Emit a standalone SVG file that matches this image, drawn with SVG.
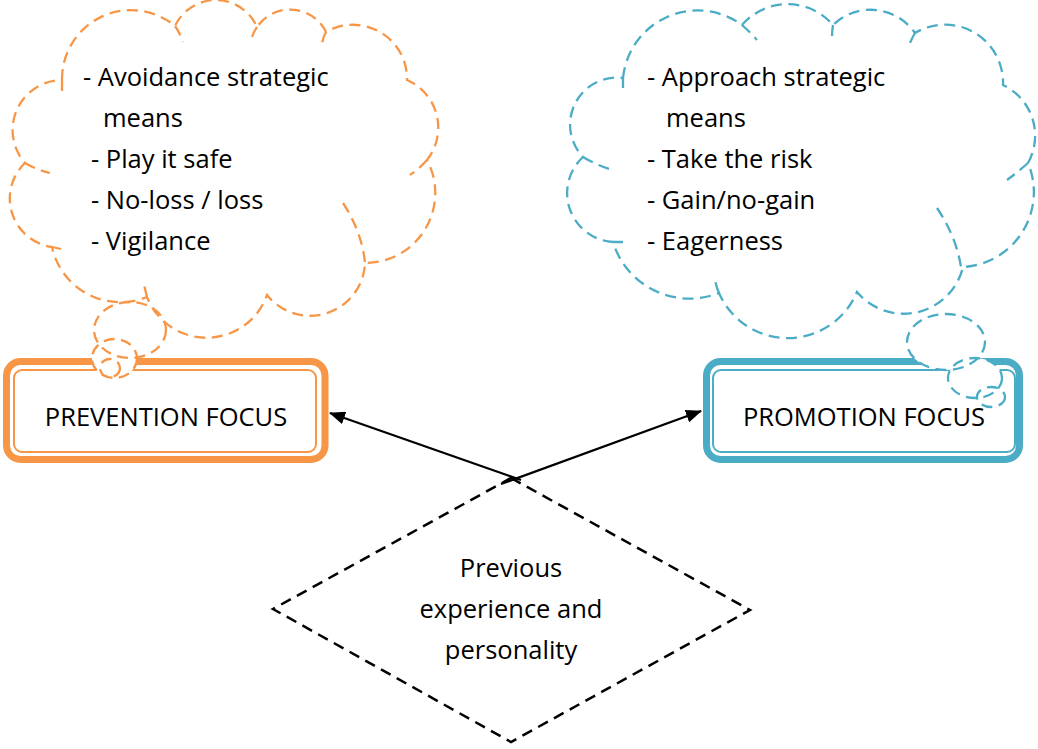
<svg xmlns="http://www.w3.org/2000/svg" width="1038" height="749" viewBox="0 0 1038 749">
  <style>
    text { font-family: "Open Sans", "Liberation Sans", sans-serif; font-size: 25.5px; fill: #000; }
    .mid { text-anchor: middle; }
    .fill { fill: #fff; stroke: none; }
    .orange { fill: none; stroke: #F79646; stroke-width: 2.3; stroke-dasharray: 11 6.5; }
    .blue { fill: none; stroke: #4BACC6; stroke-width: 2.3; stroke-dasharray: 11 6.5; }
    .box-o-outer { fill: #fff; stroke: #F79646; stroke-width: 7; }
    .box-o-inner { fill: none; stroke: #F79646; stroke-width: 2; }
    .box-b-outer { fill: #fff; stroke: #4BACC6; stroke-width: 7; }
    .box-b-inner { fill: none; stroke: #4BACC6; stroke-width: 2; }
    .link { stroke: #000; stroke-width: 2.3; fill: none; marker-end: url(#arrow); }
  </style>
  <defs>
    <marker id="arrow" viewBox="0 0 16 13" refX="15" refY="6.5" markerWidth="16" markerHeight="13" markerUnits="userSpaceOnUse" orient="auto">
      <path d="M0,0 L16,6.5 L0,13 Z" fill="#000"/>
    </marker>
    <path id="cloudL" d="M62,80 A69 69 0 0 1 175,26 A45 45 0 0 1 257,27 A40 40 0 0 1 326,32 A54 54 0 0 1 407,80 A52 52 0 0 1 427,160 A70 70 0 0 1 365,263 A55 55 0 0 1 267,295 A64 64 0 0 1 147,297 A70 70 0 0 1 52,247 A49 49 0 0 1 25,163 A50 50 0 0 1 62,80 Z"/>
    <path id="cloudR" d="M623,78 A75 75 0 0 1 742,25 A60 60 0 0 1 833,25 A54 54 0 0 1 915,33 A58 58 0 0 1 1003,85 A56 56 0 0 1 1028,163 A75 75 0 0 1 963,267 A61 61 0 0 1 857,292 A75 75 0 0 1 719,293 A80 80 0 0 1 613,242 A49 49 0 0 1 583,157 A47 47 0 0 1 623,78 Z"/>
  </defs>

  <rect width="1038" height="749" fill="#fff"/>

  <!-- Prevention focus box -->
  <g id="prevention">
    <rect class="box-o-outer" x="6.5" y="361.5" width="318.5" height="98" rx="14"/>
    <rect class="box-o-inner" x="14" y="370" width="302" height="82" rx="8"/>
    <text class="mid" x="166" y="426">PREVENTION FOCUS</text>
  </g>

  <!-- Promotion focus box -->
  <g id="promotion">
    <rect class="box-b-outer" x="706.5" y="361.5" width="313" height="98" rx="14"/>
    <rect class="box-b-inner" x="713" y="370" width="302" height="82" rx="8"/>
    <text class="mid" x="864" y="426">PROMOTION FOCUS</text>
  </g>

  <!-- Prevention thought cloud -->
  <g id="prevention-cloud">
    <use href="#cloudL" class="fill"/>
    <ellipse class="fill" cx="130" cy="330" rx="36" ry="28"/>
    <ellipse class="fill" cx="114.5" cy="358.5" rx="22.5" ry="19.5"/>
    <ellipse class="fill" cx="110" cy="368" rx="10" ry="9"/>
    <use href="#cloudL" class="orange"/>
    <path class="orange" d="M62,80 L62,92 M175,26 Q180,33 183,42 M257,27 Q254,31 252,37 M326,32 Q323,37 322,44 M427,160 Q420,168 410,175 M343,203 Q362,232 365,263 M147,297 Q145,289 143,280 M52,247 L61,249 M25,163 Q37,170 50,173"/>
    <ellipse class="orange" cx="130" cy="330" rx="36" ry="28"/>
    <ellipse class="orange" cx="114.5" cy="358.5" rx="22.5" ry="19.5"/>
    <ellipse class="orange" cx="110" cy="368" rx="10" ry="9" stroke-dasharray="7 5"/>
    <text x="83" y="86">- Avoidance strategic</text>
    <text x="103" y="127">means</text>
    <text x="91" y="167.5">- Play it safe</text>
    <text x="91" y="208.5">- No-loss / loss</text>
    <text x="91" y="250">- Vigilance</text>
  </g>

  <!-- Promotion thought cloud -->
  <g id="promotion-cloud">
    <use href="#cloudR" class="fill"/>
    <ellipse class="fill" cx="946" cy="342" rx="39" ry="28"/>
    <ellipse class="fill" cx="975" cy="378" rx="27" ry="20"/>
    <ellipse class="fill" cx="991" cy="397" rx="14" ry="10"/>
    <use href="#cloudR" class="blue"/>
    <path class="blue" d="M623,78 L623,88 M742,25 Q750,32 757,40 M833,25 Q832,31 832,37 M915,33 Q912,38 910,43 M1028,163 Q1018,172 1007,180 M937,208 Q956,236 961,267 M719,293 Q716,286 715,280 M613,242 L623,242 M583,157 Q598,166 613,170"/>
    <ellipse class="blue" cx="946" cy="342" rx="39" ry="28"/>
    <ellipse class="blue" cx="975" cy="378" rx="27" ry="20"/>
    <ellipse class="blue" cx="991" cy="397" rx="14" ry="10" stroke-dasharray="7 5"/>
    <text x="647" y="86">- Approach strategic</text>
    <text x="666" y="127">means</text>
    <text x="647" y="167.5">- Take the risk</text>
    <text x="647" y="208.5">- Gain/no-gain</text>
    <text x="647" y="250">- Eagerness</text>
  </g>

  <!-- Source node -->
  <g id="origin">
    <path d="M511,478 L750,610 L511,742 L273,609 Z" fill="#fff" stroke="#000" stroke-width="2.5" stroke-dasharray="11 7"/>
    <text class="mid" x="511" y="577">Previous</text>
    <text class="mid" x="511" y="618">experience and</text>
    <text class="mid" x="511" y="659">personality</text>
  </g>

  <!-- Connectors -->
  <g id="connectors">
    <line class="link" x1="521" y1="480" x2="330" y2="413"/>
    <line class="link" x1="501" y1="484" x2="701" y2="411"/>
  </g>
</svg>
